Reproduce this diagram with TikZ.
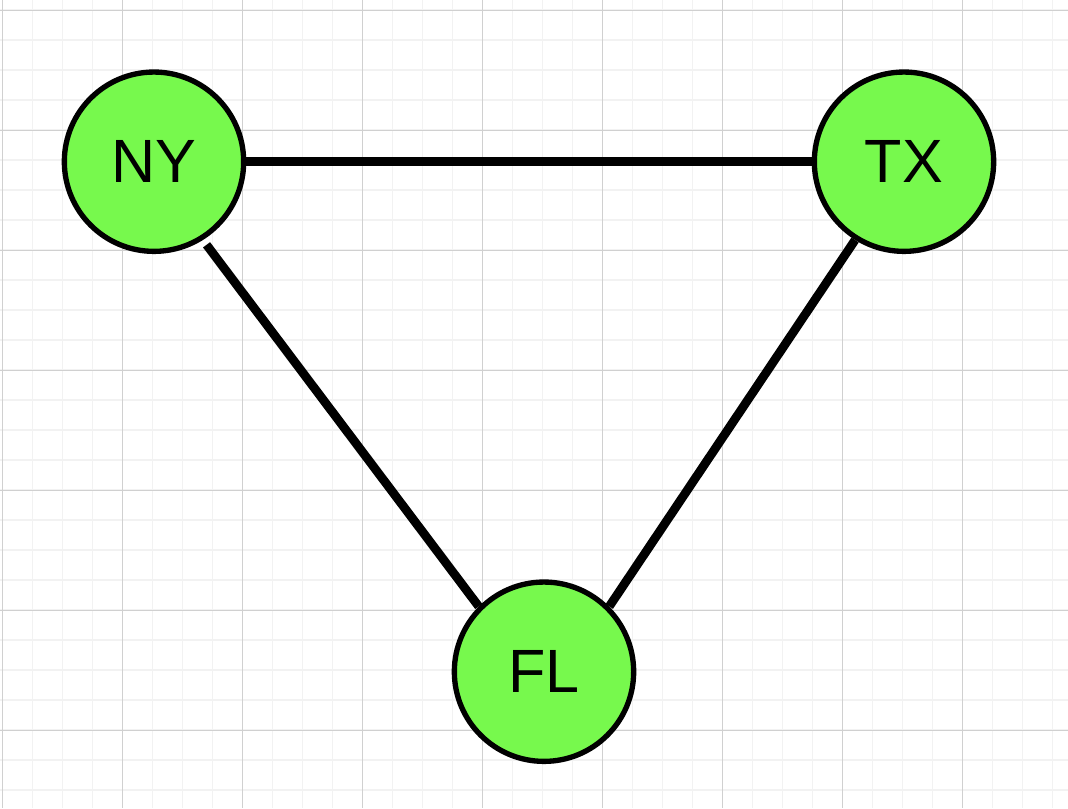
\documentclass[tikz,border=0pt]{standalone}
\usepackage{fontspec}
\setmainfont{Liberation Sans}
\definecolor{gridminor}{HTML}{F2F2F2}
\definecolor{gridmajor}{HTML}{D0D0D0}
\definecolor{nodegreen}{HTML}{77F94D}
\tikzset{
  statenode/.style={circle, draw=black, line width=4bp, fill=nodegreen,
    minimum size=134.5bp, inner sep=0pt, font=\fontsize{46}{50}\selectfont},
  link/.style={draw=black, line width=6.6bp}
}
\begin{document}
\begin{tikzpicture}[x=0.75bp, y=-0.75bp]
\useasboundingbox (0,0) rectangle (1068,808);
\fill[white] (0,0) rectangle (1068,808);
% minor grid
\foreach \i in {0,...,35} {
  \draw[gridminor, line width=1bp] ({2.7+30*\i},0) -- ({2.7+30*\i},808);
}
\foreach \j in {0,...,26} {
  \draw[gridminor, line width=1bp] (0,{10+30*\j}) -- (1068,{10+30*\j});
}
% major grid
\foreach \i in {0,...,8} {
  \draw[gridmajor, line width=0.75bp] ({2.7+120*\i},0) -- ({2.7+120*\i},808);
}
\foreach \j in {0,...,6} {
  \draw[gridmajor, line width=0.75bp] (0,{10+120*\j}) -- (1068,{10+120*\j});
}
\node[statenode] (NY) at (154,161.7) {NY};
\node[statenode] (TX) at (904,161.7) {TX};
\node[statenode] (FL) at (544,671.7) {FL};
\draw[link] (NY.east) -- (TX.west);
\draw[link, shorten <=4.5bp] (NY.-58) -- (FL.135.6);
\draw[link] (TX.-122.3) -- (FL.45.3);
\end{tikzpicture}
\end{document}
